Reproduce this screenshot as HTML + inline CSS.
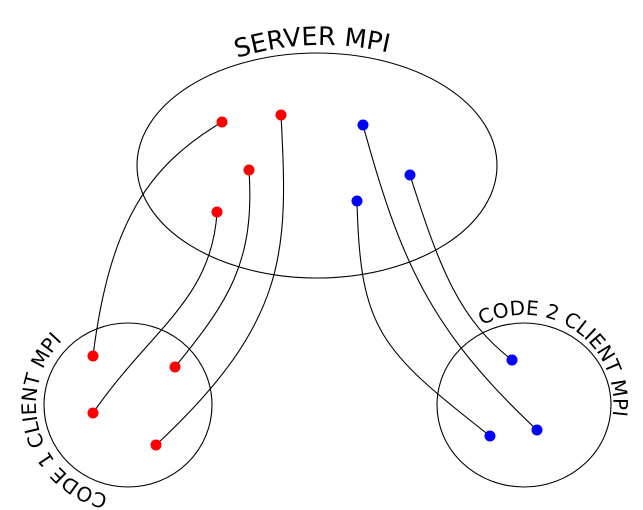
<!DOCTYPE html>
<html><head><meta charset="utf-8"><style>html,body{margin:0;padding:0;background:#fff}svg{display:block}</style></head>
<body>
<svg width="643" height="510" viewBox="0 0 643 510" xmlns="http://www.w3.org/2000/svg">
<defs>
<path id="p1" d="M112.0,495.6 A92,92 0 0 1 112.0,314.4"/>
<path id="p2" d="M479.5,327.0 A89,89 0 0 1 607.6,435.4"/>
<path id="p3" d="M237,58 Q317,33 402,56"/>
</defs>
<g fill="none" stroke="#000" stroke-width="1.1">
<ellipse cx="317" cy="165.5" rx="180" ry="112.5"/>
<ellipse cx="128" cy="405" rx="84" ry="82"/>
<ellipse cx="524" cy="405" rx="87" ry="82"/>
<path d="M222,122 C150,165 110,220 93,356"/>
<path d="M249,170 C255,260 230,300 175,367"/>
<path d="M217,212 C212,300 150,330 93,413"/>
<path d="M281,115 C288,250 290,320 156,445"/>
<path d="M363,125 C400,260 430,330 537,430"/>
<path d="M410,175 C440,270 460,320 512,360"/>
<path d="M357,201 C360,330 380,350 490,436"/>
</g>
<g fill="#f00">
<circle cx="222" cy="122" r="5.5"/><circle cx="281" cy="115" r="5.5"/><circle cx="249" cy="170" r="5.5"/><circle cx="217" cy="212" r="5.5"/>
<circle cx="93" cy="356" r="5.5"/><circle cx="175" cy="367" r="5.5"/><circle cx="93" cy="413" r="5.5"/><circle cx="156" cy="445" r="5.5"/>
</g>
<g fill="#00f">
<circle cx="363" cy="125" r="5.5"/><circle cx="410" cy="175" r="5.5"/><circle cx="357" cy="201" r="5.5"/>
<circle cx="512" cy="360" r="5.5"/><circle cx="537" cy="430" r="5.5"/><circle cx="490" cy="436" r="5.5"/>
</g>
<g font-family="DejaVu Sans, Liberation Sans, sans-serif" fill="#000">
<text font-size="25.5"><textPath href="#p3" startOffset="0">SERVER MPI</textPath></text>
<text font-size="20"><textPath href="#p1" startOffset="4">CODE 1 CLIENT MPI</textPath></text>
<text font-size="20"><textPath href="#p2" startOffset="3">CODE 2 CLIENT MPI</textPath></text>
</g>
</svg>
</body></html>
